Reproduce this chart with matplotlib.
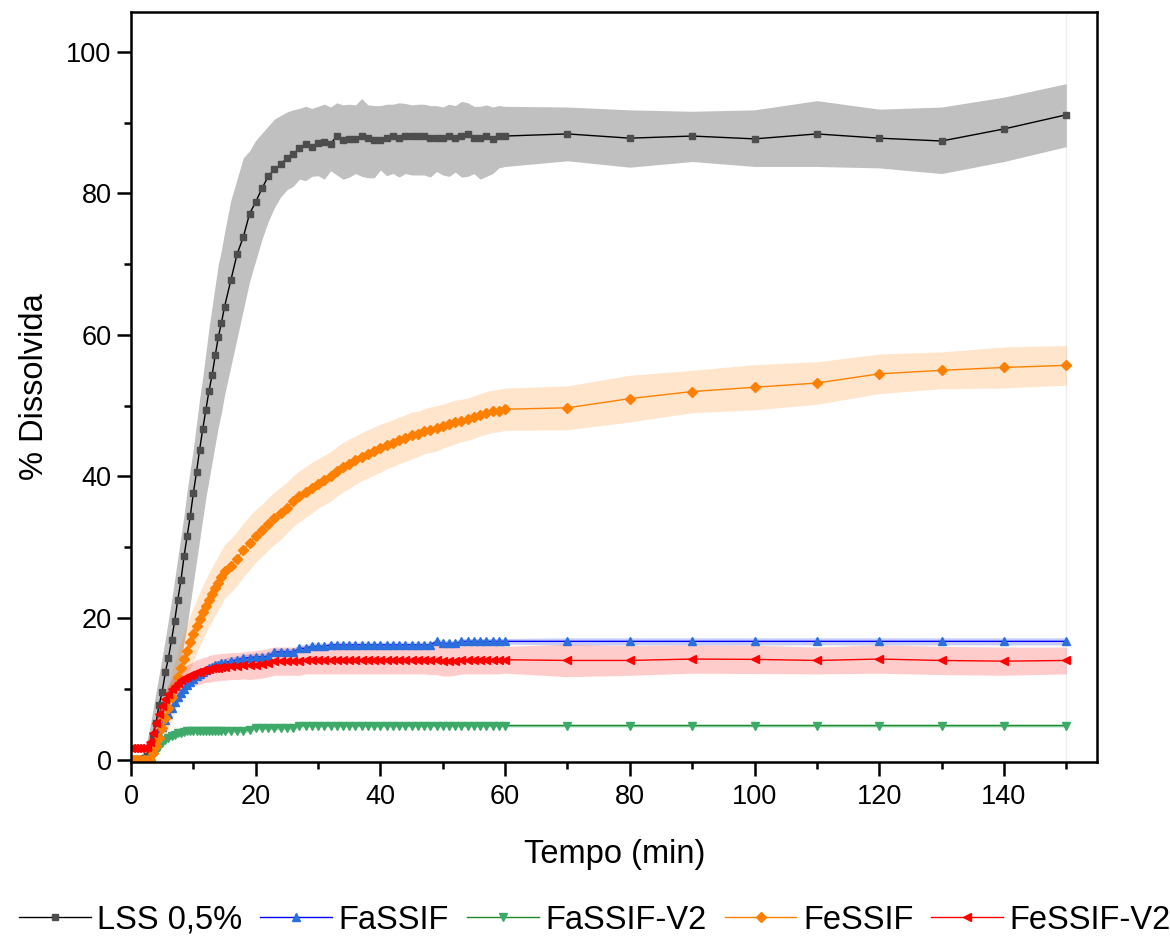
import numpy as np
import matplotlib
matplotlib.use("Agg")
import matplotlib.pyplot as plt
from matplotlib.ticker import MultipleLocator

plt.rcParams['font.family'] = ['Liberation Sans', 'DejaVu Sans']

# time (min)
tempo = [0, 0.5, 1, 1.5, 2, 2.5, 3, 3.5, 4, 4.5, 5, 5.5, 6, 6.5, 7, 7.5, 8, 8.5, 9, 9.5,
         10, 10.5, 11, 11.5, 12, 12.5, 13, 13.5, 14, 14.5, 15,
         16, 17, 18, 19, 20, 21, 22, 23, 24, 25, 26, 27, 28, 29, 30,
         31, 32, 33, 34, 35, 36, 37, 38, 39, 40, 41, 42, 43, 44, 45,
         46, 47, 48, 49, 50, 51, 52, 53, 54, 55, 56, 57, 58, 59, 60,
         70, 80, 90, 100, 110, 120, 130, 140, 150]

# LSS 0,5%
lss = [0, 0, 0, 0, 0.2, 0.5, 1.5, 3.2, 5.2, 7.7, 9.6, 12.3, 14.4, 16.9, 19.6, 22.6, 25.3, 28.7, 31.6, 34.4,
       37.7, 40.6, 43.8, 46.7, 49.4, 52.1, 54.3, 57.1, 59.7, 61.7, 64.0,
       67.7, 71.4, 73.8, 77.1, 78.8, 80.7, 82.4, 83.4, 84.1, 85.0, 85.5, 86.4, 87.0, 86.6, 87.1,
       87.3, 87.0, 88.1, 87.5, 87.7, 87.7, 88.1, 87.8, 87.5, 87.5, 87.8, 88.1, 87.8, 88.1, 88.1,
       88.1, 88.1, 87.8, 87.8, 87.8, 88.1, 87.8, 88.1, 88.4, 87.8, 87.8, 88.1, 87.7, 88.1, 88.1,
       88.4, 87.8, 88.1, 87.7, 88.4, 87.8, 87.4, 89.1, 91.1]
lss_hi = [0, 0, 0, 0.3, 1.2, 2.5, 4.5, 7.0, 9.5, 12.0, 14.5, 17.0, 19.8, 22.5, 25.5, 28.5, 31.5, 34.5, 38.0, 41.0,
          44.0, 47.5, 51.0, 54.0, 57.5, 61.0, 64.0, 67.0, 70.0, 72.0, 74.5,
          79.0, 82.0, 85.0, 86.0, 87.5, 88.5, 89.5, 90.5, 91.0, 91.5, 91.8, 92.0, 92.3, 92.0, 92.3,
          92.6, 92.2, 92.8, 92.5, 92.6, 92.5, 93.4, 92.5, 92.4, 92.4, 92.6, 92.6, 92.8, 92.7, 92.5,
          92.6, 92.6, 92.4, 92.4, 92.2, 92.6, 92.4, 93.0, 92.8, 92.3, 92.3, 92.5, 92.2, 92.4, 92.3,
          92.2, 91.8, 91.6, 91.8, 93.1, 91.9, 92.2, 93.6, 95.5]
lss_lo = [0, 0, 0, 0, 0, 0, 0, 0.5, 1.2, 2.5, 4.0, 5.5, 7.0, 8.5, 10.0, 12.0, 14.0, 16.5, 19.0, 22.0,
          25.0, 28.0, 31.0, 34.0, 37.0, 39.5, 42.0, 44.5, 47.0, 49.0, 51.5,
          55.5, 59.5, 63.5, 67.5, 70.5, 73.5, 76.0, 78.0, 79.5, 80.5, 81.0, 82.0, 81.8, 82.4, 82.5,
          82.0, 83.2, 82.6, 82.0, 82.3, 82.8, 82.4, 82.2, 82.2, 83.3, 82.5, 82.8, 82.3, 82.8, 82.6,
          82.6, 82.6, 82.3, 83.1, 82.6, 82.4, 83.0, 82.3, 82.4, 82.8, 82.0, 82.4, 82.8, 83.6, 83.8,
          84.6, 83.7, 84.5, 83.8, 83.8, 83.6, 82.8, 84.5, 86.6]

# FaSSIF
fassif = [0, 0, 0, 0, 0, 0.1, 0.5, 1.3, 2.5, 3.6, 4.6, 5.6, 6.5, 7.3, 8.1, 8.8, 9.4, 10.0, 10.5, 11.0,
          11.4, 11.8, 12.1, 12.4, 12.7, 12.9, 13.1, 13.3, 13.4, 13.6, 13.7,
          13.9, 14.1, 14.3, 14.4, 14.5, 14.5, 14.6, 15.2, 15.2, 15.2, 15.2, 15.7, 15.7, 16.0, 16.0,
          16.0, 16.2, 16.2, 16.2, 16.2, 16.2, 16.2, 16.2, 16.2, 16.2, 16.2, 16.2, 16.2, 16.2, 16.2,
          16.2, 16.2, 16.2, 16.7, 16.4, 16.4, 16.4, 16.7, 16.7, 16.7, 16.7, 16.7, 16.7, 16.7, 16.7,
          16.7, 16.7, 16.7, 16.7, 16.7, 16.7, 16.7, 16.7, 16.7]
fassif_sd = [0, 0, 0, 0, 0, 0.1, 0.3, 0.5, 0.6, 0.7, 0.7, 0.7, 0.7, 0.7, 0.7, 0.7, 0.7, 0.7, 0.6, 0.6,
             0.6, 0.6, 0.6, 0.6, 0.6, 0.6, 0.6, 0.6, 0.6, 0.6, 0.6,
             0.6, 0.5, 0.5, 0.5, 0.5, 0.5, 0.5, 0.5, 0.5, 0.5, 0.5, 0.5, 0.5, 0.5, 0.5,
             0.4, 0.4, 0.4, 0.4, 0.4, 0.4, 0.4, 0.4, 0.4, 0.4, 0.4, 0.4, 0.4, 0.4, 0.4,
             0.4, 0.4, 0.4, 0.4, 0.4, 0.4, 0.4, 0.4, 0.4, 0.4, 0.4, 0.4, 0.4, 0.4, 0.4,
             0.5, 0.5, 0.5, 0.5, 0.5, 0.5, 0.5, 0.5, 0.5]

# FaSSIF-V2
fassif_v2 = [0, 0, 0, 0, 0, 0, 0, 0.6, 1.2, 1.8, 2.3, 2.7, 3.0, 3.3, 3.5, 3.7, 3.8, 3.9, 4.0, 4.0,
             4.0, 4.0, 4.0, 4.0, 4.0, 4.0, 4.0, 4.0, 4.0, 4.0, 4.0,
             4.1, 4.1, 4.1, 4.2, 4.5, 4.5, 4.5, 4.5, 4.5, 4.5, 4.5, 4.8, 4.8, 4.8, 4.8,
             4.8, 4.8, 4.8, 4.8, 4.8, 4.8, 4.8, 4.8, 4.8, 4.8, 4.8, 4.8, 4.8, 4.8, 4.8,
             4.8, 4.8, 4.8, 4.8, 4.8, 4.8, 4.8, 4.8, 4.8, 4.8, 4.8, 4.8, 4.8, 4.8, 4.8,
             4.8, 4.8, 4.8, 4.8, 4.8, 4.8, 4.8, 4.8, 4.8]
fassif_v2_sd = [0, 0, 0, 0, 0, 0, 0, 0.2, 0.3, 0.3, 0.3, 0.3, 0.3, 0.3, 0.3, 0.3, 0.3, 0.3, 0.3, 0.3,
                0.3, 0.3, 0.3, 0.3, 0.3, 0.3, 0.3, 0.3, 0.3, 0.3, 0.3,
                0.3, 0.3, 0.3, 0.3, 0.3, 0.3, 0.3, 0.3, 0.3, 0.3, 0.3, 0.2, 0.2, 0.2, 0.2,
                0.2, 0.2, 0.2, 0.2, 0.2, 0.2, 0.2, 0.2, 0.2, 0.2, 0.2, 0.2, 0.2, 0.2, 0.2,
                0.2, 0.2, 0.2, 0.2, 0.2, 0.2, 0.2, 0.2, 0.2, 0.2, 0.2, 0.2, 0.2, 0.2, 0.2,
                0.2, 0.2, 0.2, 0.2, 0.2, 0.2, 0.2, 0.2, 0.2]

# FeSSIF
fessif = [0, 0, 0, 0, 0, 0, 0, 0.9, 1.9, 3.1, 4.4, 5.8, 7.3, 8.8, 10.2, 11.6, 12.9, 14.2, 15.4, 16.6,
          17.7, 18.8, 19.8, 20.8, 21.7, 22.6, 23.4, 24.2, 25.0, 25.8, 26.6,
          27.4, 28.4, 29.6, 30.6, 31.6, 32.4, 33.3, 34.1, 34.8, 35.6, 36.5, 37.2, 37.8, 38.4, 39.0,
          39.5, 40.0, 40.7, 41.3, 41.8, 42.3, 42.8, 43.2, 43.6, 44.0, 44.4, 44.7, 45.1, 45.4, 45.8,
          46.0, 46.4, 46.6, 46.8, 47.1, 47.4, 47.7, 47.9, 48.1, 48.4, 48.7, 49.0, 49.2, 49.3, 49.5,
          49.7, 51.0, 52.0, 52.6, 53.2, 54.5, 55.0, 55.4, 55.7]
fessif_sd = [0, 0, 0, 0, 0, 0, 0, 0.6, 1.2, 1.8, 2.3, 2.7, 3.0, 3.3, 3.5, 3.6, 3.7, 3.8, 3.8, 3.8,
             3.8, 3.8, 3.8, 3.8, 3.8, 3.8, 3.8, 3.8, 3.8, 3.8, 3.8,
             3.8, 3.8, 3.8, 3.8, 3.7, 3.7, 3.7, 3.7, 3.7, 3.6, 3.6, 3.6, 3.6, 3.6, 3.5,
             3.5, 3.5, 3.5, 3.5, 3.5, 3.4, 3.4, 3.4, 3.4, 3.4, 3.3, 3.3, 3.3, 3.3, 3.3,
             3.2, 3.2, 3.2, 3.2, 3.1, 3.1, 3.1, 3.0, 3.0, 3.0, 3.0, 3.0, 3.0, 3.0, 3.0,
             3.1, 3.3, 3.0, 3.2, 3.0, 2.8, 2.6, 2.9, 2.8]

# FeSSIF-V2
fessif_v2 = [1.7, 1.7, 1.7, 1.7, 1.7, 1.8, 2.5, 3.8, 5.2, 6.5, 7.6, 8.5, 9.3, 9.9, 10.4, 10.8, 11.2, 11.5, 11.7, 11.9,
             12.1, 12.3, 12.4, 12.6, 12.7, 12.8, 12.9, 13.0, 13.0, 13.1, 13.1,
             13.2, 13.2, 13.3, 13.3, 13.4, 13.5, 13.7, 13.9, 13.9, 13.9, 13.9, 13.9, 14.1, 14.1, 14.1,
             14.1, 14.1, 14.1, 14.1, 14.1, 14.1, 14.1, 14.1, 14.1, 14.1, 14.1, 14.1, 14.1, 14.1, 14.1,
             14.1, 14.1, 14.1, 14.1, 13.9, 13.9, 13.9, 14.1, 14.1, 14.1, 14.1, 14.1, 14.1, 14.1, 14.1,
             14.0, 14.0, 14.2, 14.15, 14.0, 14.2, 14.0, 13.9, 14.0]
fessif_v2_sd = [0.1, 0.1, 0.1, 0.1, 0.1, 0.2, 0.4, 0.6, 0.8, 1.0, 1.1, 1.2, 1.3, 1.4, 1.5, 1.5, 1.6, 1.6, 1.7, 1.7,
                1.7, 1.8, 1.8, 1.8, 1.8, 1.9, 1.9, 1.9, 1.9, 1.9, 1.9,
                1.9, 1.9, 1.9, 2.0, 2.0, 2.0, 2.0, 2.0, 2.0, 2.0, 2.0, 2.0, 2.0, 2.0, 2.0,
                2.0, 2.0, 2.0, 2.0, 2.0, 2.0, 2.0, 2.0, 2.0, 2.0, 2.0, 2.0, 2.0, 2.0, 2.0,
                2.0, 2.0, 2.1, 2.1, 2.1, 2.1, 2.0, 2.0, 2.0, 2.0, 2.0, 2.0, 2.0, 2.0, 1.9,
                2.3, 2.1, 2.0, 2.0, 1.9, 2.0, 2.0, 2.0, 1.9]

t = np.array(tempo)

fig = plt.figure(figsize=(11.7, 9.38), dpi=100)
ax = fig.add_axes([0.112, 0.188, 0.826, 0.799])

# faint line at the end of the data
ax.axvline(tempo[-1], color='#eeeeee', lw=1, zorder=0)

# LSS
ax.fill_between(t, lss_lo, lss_hi, color='#c0c0c0', lw=0)
ax.plot(t, lss, color='black', lw=1, marker='s', ms=5, mfc='#4d4d4d', mec='#4d4d4d', label='LSS 0,5%')

# FaSSIF
f = np.array(fassif); s = np.array(fassif_sd)
ax.fill_between(t, f - s, f + s, color='#c8ccfa', lw=0)
ax.plot(t, f, color='#0000ff', lw=1, marker='^', ms=6, mfc='#2a6fdc', mec='#2a6fdc', label='FaSSIF')

# FaSSIF-V2
f = np.array(fassif_v2); s = np.array(fassif_v2_sd)
ax.fill_between(t, f - s, f + s, color='#a8dcbc', lw=0)
ax.plot(t, f, color='#1a8a2a', lw=1, marker='v', ms=6, mfc='#3daa6a', mec='#3daa6a', label='FaSSIF-V2')

# FeSSIF
f = np.array(fessif); s = np.array(fessif_sd)
ax.fill_between(t, f - s, f + s, color='#ff8000', alpha=0.2, lw=0)
ax.plot(t, f, color='#ff8000', lw=1, marker='D', ms=5, mfc='#ff8000', mec='#ff8000', label='FeSSIF')

# FeSSIF-V2
f = np.array(fessif_v2); s = np.array(fessif_v2_sd)
ax.fill_between(t, f - s, f + s, color='#ff0000', alpha=0.2, lw=0)
ax.plot(t, f, color='#ff0000', lw=1, marker='<', ms=6, mfc='#ff0000', mec='#ff0000', label='FeSSIF-V2')

ax.set_xlim(0, 155)
ax.set_ylim(-0.3, 105.6)
ax.xaxis.set_major_locator(MultipleLocator(20))
ax.xaxis.set_minor_locator(MultipleLocator(10))
ax.yaxis.set_major_locator(MultipleLocator(20))
ax.yaxis.set_minor_locator(MultipleLocator(10))
ax.tick_params(which='both', direction='out', top=False, right=False, width=1.8, labelsize=19.5)
ax.tick_params(which='major', length=10)
ax.tick_params(which='minor', length=5)
ax.tick_params(axis='x', which='major', pad=6)
ax.tick_params(axis='y', which='major', pad=4)
for sp in ax.spines.values():
    sp.set_linewidth(1.8)

ax.set_xlabel('Tempo (min)', fontsize=23.5, labelpad=21)
ax.set_ylabel('% Dissolvida', fontsize=23.5, labelpad=12)

fig.legend(loc='lower center', bbox_to_anchor=(0.5085, -0.029), ncol=5, frameon=False, fontsize=23.5,
           handlelength=2.2, handletextpad=0.2, columnspacing=0.55)

plt.savefig("out.png", dpi=100)
